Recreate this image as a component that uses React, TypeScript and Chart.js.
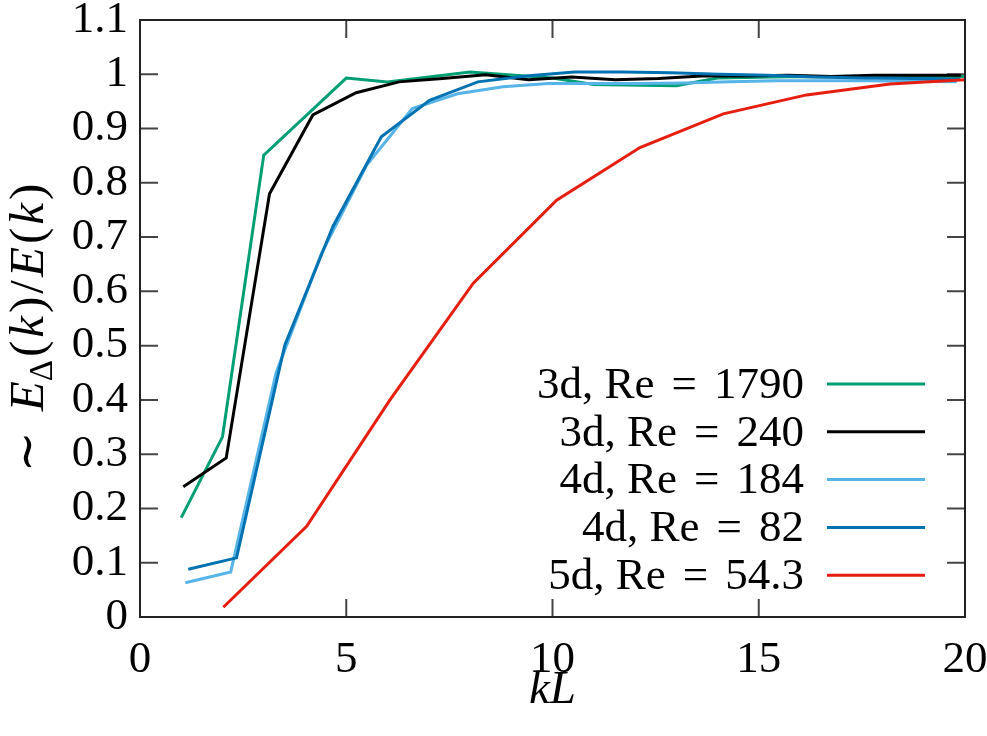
import React, { useEffect, useRef } from 'react';
import { Chart, registerables } from 'chart.js';

Chart.register(...registerables);

// ---- data ----
const X_TICKS = [0, 5, 10, 15, 20];
const Y_TICKS = [0, 0.1, 0.2, 0.3, 0.4, 0.5, 0.6, 0.7, 0.8, 0.9, 1, 1.1];

const SERIES_LABELS = ['3d, Re = 1790', '3d, Re = 240', '4d, Re = 184', '4d, Re = 82', '5d, Re = 54.3'];
const SERIES_COLORS = ['#009E73', '#000000', '#56B4E9', '#0072B2', '#E51E10'];

const green_x = [1, 2, 3, 5, 6, 8, 10, 11, 13, 14, 16, 18, 20];
const green_y = [0.183, 0.332, 0.851, 0.993, 0.986, 1.004, 0.993, 0.981, 0.979, 0.993, 0.996, 0.995, 0.996];

const black_x = [1.05, 2.09, 3.14, 4.19, 5.24, 6.28, 7.33, 8.38, 9.42, 10.47, 11.52, 12.57, 13.61, 14.66, 15.71, 16.76, 17.8, 18.85, 19.9];
const black_y = [0.24, 0.293, 0.78, 0.925, 0.966, 0.986, 0.992, 0.999, 0.99, 0.995, 0.99, 0.992, 0.997, 0.997, 0.998, 0.996, 0.998, 0.998, 0.998];

const lightblue_x = [1.1, 2.2, 3.3, 4.4, 5.5, 6.6, 7.7, 8.8, 9.9, 11, 12.1, 13.2, 14.3, 15.4, 16.5, 17.6, 18.7, 19.8];
const lightblue_y = [0.063, 0.083, 0.45, 0.67, 0.833, 0.937, 0.964, 0.977, 0.983, 0.983, 0.983, 0.984, 0.986, 0.988, 0.988, 0.988, 0.987, 0.986];

const darkblue_x = [1.17, 2.34, 3.51, 4.68, 5.85, 7.02, 8.19, 9.36, 10.53, 11.7, 12.87, 14.04, 15.21, 16.38, 17.55, 18.72, 19.89];
const darkblue_y = [0.088, 0.109, 0.501, 0.72, 0.885, 0.952, 0.986, 0.997, 1.004, 1.004, 1.003, 1.0, 0.998, 0.995, 0.993, 0.992, 0.991];

const red_x = [2.02, 4.04, 6.06, 8.08, 10.1, 12.12, 14.14, 16.16, 18.18, 20];
const red_y = [0.018, 0.167, 0.4, 0.615, 0.768, 0.865, 0.927, 0.962, 0.982, 0.99];

const SERIES_X = [green_x, black_x, lightblue_x, darkblue_x, red_x];
const SERIES_Y = [green_y, black_y, lightblue_y, darkblue_y, red_y];

const SERIF = '"Liberation Serif", "DejaVu Serif", serif';
const FS = 45;

const decorPlugin = {
  id: 'decor',
  beforeDatasetsDraw(chart: any) {
    const { ctx, chartArea, scales } = chart;
    const { left, right, top, bottom } = chartArea;
    const TL = 18;
    ctx.save();
    ctx.strokeStyle = '#444444';
    ctx.lineWidth = 2;
    ctx.beginPath();
    for (const v of X_TICKS) {
      const px = scales.x.getPixelForValue(v);
      ctx.moveTo(px, bottom); ctx.lineTo(px, bottom - TL);
      ctx.moveTo(px, top); ctx.lineTo(px, top + TL);
    }
    for (const v of Y_TICKS) {
      const py = scales.y.getPixelForValue(v);
      ctx.moveTo(left, py); ctx.lineTo(left + TL, py);
      ctx.moveTo(right, py); ctx.lineTo(right - TL, py);
    }
    ctx.stroke();
    ctx.restore();
  },
  afterDatasetsDraw(chart: any) {
    const { ctx, chartArea } = chart;
    const { left, right, top, bottom } = chartArea;
    ctx.save();
    ctx.strokeStyle = '#222222';
    ctx.lineWidth = 2;
    ctx.strokeRect(left, top, right - left, bottom - top);

    // legend (math-style spacing around "=")
    const textRight = right - 161;
    const lineStart = right - 138;
    const lineEnd = right - 40;
    const row0 = bottom - 233;
    const rowH = 47.8;
    const mathGap = FS * 0.38;
    chart.data.datasets.forEach((ds: any, i: number) => {
      const yy = row0 + i * rowH;
      ctx.font = `${FS}px ${SERIF}`;
      ctx.fillStyle = '#000';
      ctx.textBaseline = 'middle';
      ctx.textAlign = 'right';
      const parts = String(ds.label).split(' = ');
      if (parts.length === 2) {
        let xr = textRight;
        ctx.fillText(parts[1], xr, yy + 2);
        xr -= ctx.measureText(parts[1]).width + mathGap;
        ctx.fillText('=', xr, yy + 2);
        xr -= ctx.measureText('=').width + mathGap;
        ctx.fillText(parts[0], xr, yy + 2);
      } else {
        ctx.fillText(ds.label, textRight, yy + 2);
      }
      ctx.strokeStyle = ds.borderColor;
      ctx.lineWidth = 3;
      ctx.beginPath();
      ctx.moveTo(lineStart, yy);
      ctx.lineTo(lineEnd, yy);
      ctx.stroke();
    });

    // x title: kL
    ctx.fillStyle = '#000';
    ctx.textAlign = 'center';
    ctx.textBaseline = 'middle';
    ctx.font = `italic ${FS + 2}px ${SERIF}`;
    ctx.fillText('kL', (left + right) / 2, 691);

    // y title: ∼ E_Δ(k)/E(k)
    const TF = 49;
    const pieces: [string, string, number][] = [
      ['∼', `${TF}px ${SERIF}`, 0],
      ['E', `italic ${TF}px ${SERIF}`, 0],
      ['Δ', `${Math.round(TF * 0.68)}px ${SERIF}`, 9],
      ['(', `${TF}px ${SERIF}`, 0],
      ['k', `italic ${TF}px ${SERIF}`, 0],
      [')', `${TF}px ${SERIF}`, 0],
      ['/', `${TF}px ${SERIF}`, 0],
      ['E', `italic ${TF}px ${SERIF}`, 0],
      ['(', `${TF}px ${SERIF}`, 0],
      ['k', `italic ${TF}px ${SERIF}`, 0],
      [')', `${TF}px ${SERIF}`, 0],
    ];
    const gaps = [20, 0, 3, 3, 3, 3, 3, 3, 3, 3, 0];
    let total = 0;
    const widths = pieces.map(([t, f], i) => {
      ctx.font = f;
      const w = ctx.measureText(t).width;
      total += w + gaps[i];
      return w;
    });
    ctx.translate(30, 328);
    ctx.rotate(-Math.PI / 2);
    ctx.textAlign = 'left';
    ctx.textBaseline = 'alphabetic';
    let xx = -total / 2;
    pieces.forEach(([t, f, dy], i) => {
      ctx.font = f;
      ctx.fillText(t, xx, 13 + dy);
      xx += widths[i] + gaps[i];
    });
    ctx.restore();
  },
};

export default function App() {
  const ref = useRef<HTMLCanvasElement | null>(null);
  useEffect(() => {
    if (!ref.current) return;
    const datasets = SERIES_LABELS.map((label, i) => ({
      label,
      data: SERIES_X[i].map((x, j) => ({ x, y: SERIES_Y[i][j] })),
      borderColor: SERIES_COLORS[i],
      backgroundColor: SERIES_COLORS[i],
      borderWidth: 3,
      pointRadius: 0,
      fill: false,
      tension: 0,
      order: SERIES_LABELS.length - i,
    }));
    const chart = new Chart(ref.current, {
      type: 'line',
      data: { datasets },
      options: {
        animation: false,
        responsive: false,
        maintainAspectRatio: false,
        layout: { padding: { left: 0, top: 20, right: 22, bottom: 0 } },
        plugins: { legend: { display: false }, tooltip: { enabled: false } },
        scales: {
          x: {
            type: 'linear',
            min: 0,
            max: 20,
            grid: { display: false, drawTicks: false },
            border: { display: false },
            afterBuildTicks: (s: any) => { s.ticks = X_TICKS.map((v) => ({ value: v })); },
            afterFit: (s: any) => { s.height = 119; s.paddingLeft = 0; s.paddingRight = 0; },
            ticks: {
              padding: 21,
              color: '#000',
              maxRotation: 0,
              font: { family: SERIF, size: FS, lineHeight: 1 },
              callback: (v: any) => String(v),
            },
          },
          y: {
            type: 'linear',
            min: 0,
            max: 1.1,
            grid: { display: false, drawTicks: false },
            border: { display: false },
            afterBuildTicks: (s: any) => { s.ticks = Y_TICKS.map((v) => ({ value: v })); },
            afterFit: (s: any) => { s.width = 140; s.paddingTop = 0; s.paddingBottom = 0; },
            ticks: {
              padding: 12,
              color: '#000',
              font: { family: SERIF, size: FS, lineHeight: 1 },
              callback: (v: any) => String(Number(Number(v).toFixed(1))),
            },
          },
        },
      },
      plugins: [decorPlugin],
    });
    return () => chart.destroy();
  }, []);
  return (
    <div style={{ position: 'absolute', left: 0, top: 0, width: 987, height: 736, background: '#fff' }}>
      <canvas ref={ref} width={987} height={736} />
    </div>
  );
}
